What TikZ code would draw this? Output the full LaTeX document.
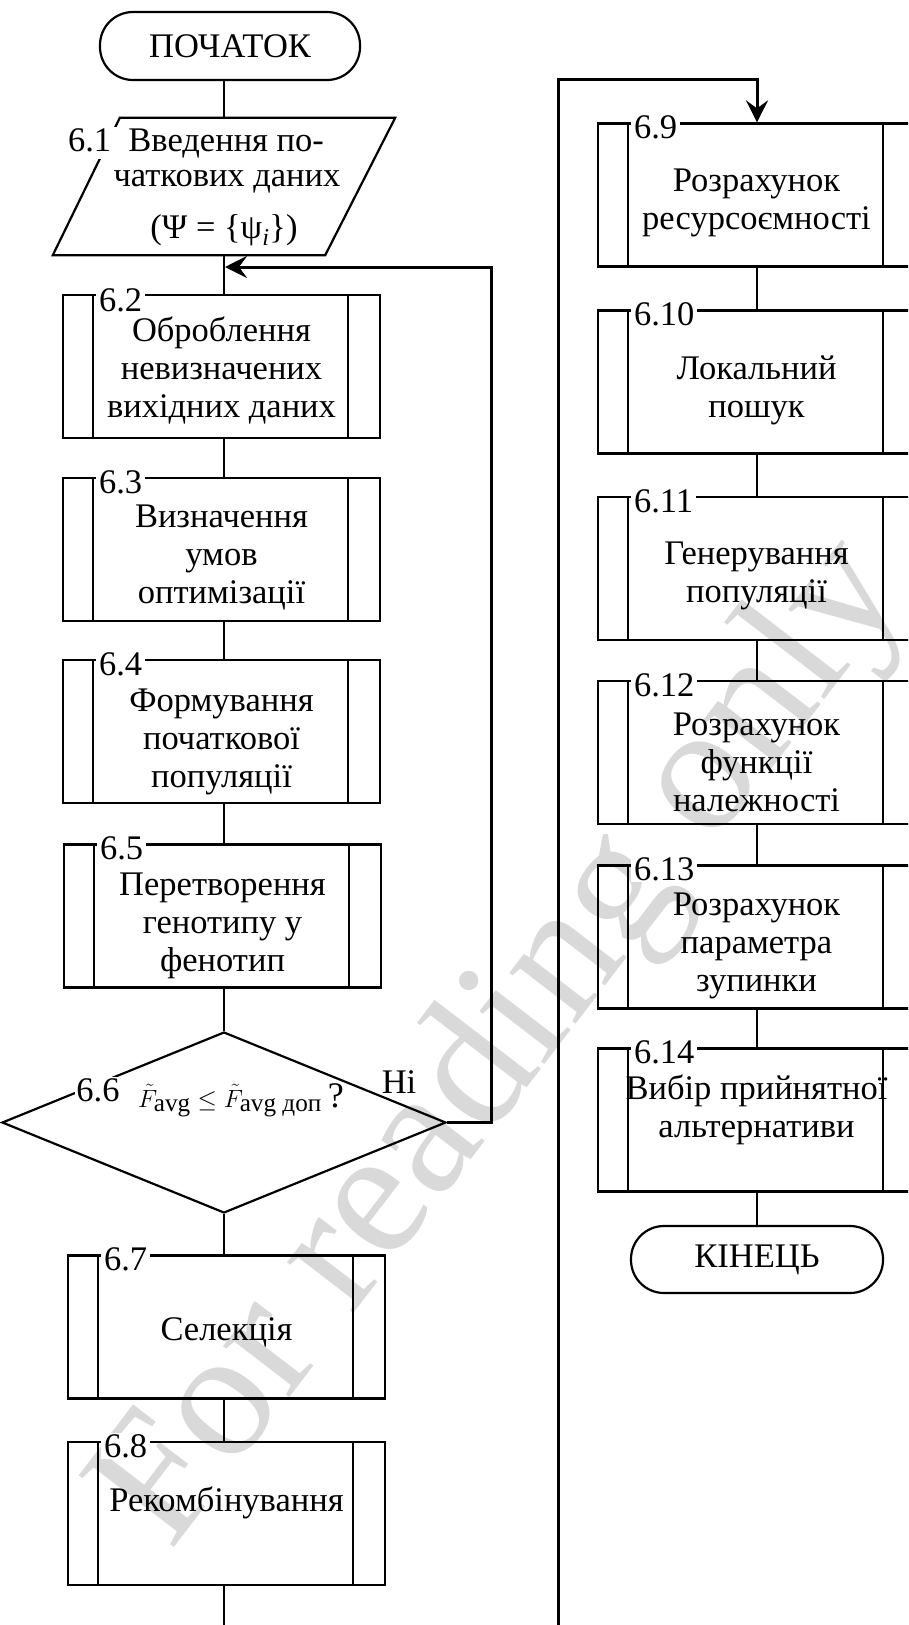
\documentclass[tikz,border=0pt]{standalone}
\usepackage{fontspec}
\usepackage{amsmath}
\setmainfont{Liberation Serif}
\usetikzlibrary{shapes.geometric,arrows.meta}
\begin{document}
\begin{tikzpicture}[x=1pt,y=-1pt,
  every node/.style={font=\fontsize{34.5}{38}\selectfont},
  proc/.style={draw, line width=2.2pt, minimum width=317pt, minimum height=143pt, inner sep=0pt,
    path picture={
      \draw[line width=2.2pt] ([xshift=30pt]path picture bounding box.north west) -- ([xshift=30pt]path picture bounding box.south west);
      \draw[line width=2.2pt] ([xshift=-32pt]path picture bounding box.north east) -- ([xshift=-32pt]path picture bounding box.south east);}},
  ptext/.style={align=center, inner sep=0pt},
  lbl/.style={fill=white, inner xsep=3pt, inner ysep=1pt, anchor=west},
  term/.style={draw, line width=2.2pt, rounded corners=33pt, inner sep=0pt},
  conn/.style={line width=2.2pt},
  arr/.style={line width=3pt, -{Stealth[length=22pt,width=22pt,inset=8pt]}},
]
\useasboundingbox (0,0) rectangle (908,1625);
\clip (0,0) rectangle (908,1625);
\fill[white] (0,0) rectangle (908,1625);

% watermark
\node[rotate=52.5, text=black!15, font=\fontsize{182}{200}\selectfont] (wm) at (505,1045) {For reading only};

% ---------- left column ----------
\node[term, minimum width=260pt, minimum height=68pt] (start) at (230,46) {ПОЧАТОК};

\node[minimum width=342pt, minimum height=137pt, inner sep=0pt] (in) at (224,186.5) {};
\draw[line width=2.2pt] ([xshift=67pt]in.north west) -- (in.north east) -- ([xshift=-70pt]in.south east) -- (in.south west) -- cycle;
\node[fill=white, inner sep=1pt] (inA) at (196,143) {6.1~~Введення по-};
\node[inner sep=0pt] (inB) at (227,182) {чаткових даних};
\node[inner sep=0pt] (inC) at (224,230) {(Ψ = \{ψ\textsubscript{\textit{i}}\})};

\node[proc] (s2) at (221.5,366.5) {};
\node[ptext] at ([yshift=-4pt]s2.center) {Оброблення\\невизначених\\вихідних даних};
\node[lbl] at ([xshift=34pt,yshift=-6pt]s2.north west) {6.2};

\node[proc] (s3) at (221.5,549.5) {};
\node[ptext] at ([yshift=-8pt]s3.center) {Визначення\\умов\\оптимізації};
\node[lbl] at ([xshift=34pt,yshift=-5pt]s3.north west) {6.3};

\node[proc] (s4) at (221.5,731.5) {};
\node[ptext] at ([yshift=-10pt]s4.center) {Формування\\початкової\\популяції};
\node[lbl] at ([xshift=34pt,yshift=-5pt]s4.north west) {6.4};

\node[proc] (s5) at (222.5,916) {};
\node[ptext] at ([yshift=-10pt]s5.center) {Перетворення\\генотипу у\\фенотип};
\node[lbl] at ([xshift=34pt,yshift=-5pt]s5.north west) {6.5};

\node[draw, diamond, line width=2.2pt, minimum width=444pt, minimum height=181pt, inner sep=0pt] (dec) at (224,1122.5) {};
\node[fill=white, inner sep=1pt] (decl) at (98,1090) {6.6};
\node[inner sep=0pt, font=\fontsize{36}{40}\selectfont] (decf) at (241,1100)
  {$\tilde{F}_{\text{avg}} \le \tilde{F}_{\text{avg доп}}$\,?};
\node[inner sep=0pt] (no) at (399,1082) {Ні};

\node[proc] (s7) at (226.5,1327) {};
\node[ptext] at ([yshift=-5pt]s7.center) {Селекція};
\node[lbl] at ([xshift=34pt,yshift=-5pt]s7.north west) {6.7};

\node[proc] (s8) at (226.5,1513.5) {};
\node[ptext] at ([yshift=11pt]s8.center) {Рекомбінування};
\node[lbl] at ([xshift=34pt,yshift=-5pt]s8.north west) {6.8};

\coordinate (lb) at (224,1625);
\coordinate (loopc) at (491,267);

% left connectors
\draw[conn] (in.north |- start.south) -- (in.north);
\draw[conn] (in.south) -- (s2.north -| in.south);
\draw[conn] (s2.south -| in.south) -- (s3.north -| in.south);
\draw[conn] (s3.south -| in.south) -- (s4.north -| in.south);
\draw[conn] (s4.south -| in.south) -- (s5.north -| in.south);
\draw[conn] (s5.south -| dec.north) -- (dec.north);
\draw[conn] (dec.south) -- (s7.north -| dec.south);
\draw[conn] (s7.south -| dec.south) -- (s8.north -| dec.south);
\draw[conn] (s8.south -| lb) -- (lb);
\draw[arr] (dec.east) -| (loopc) -- ([xshift=1pt]loopc -| in.south);

% ---------- right column ----------
\node[proc] (s9) at (756.5,195) {};
\node[ptext] at ([yshift=-8pt]s9.center) {Розрахунок\\ресурсоємності};
\node[lbl] at ([xshift=34pt,yshift=-5pt]s9.north west) {6.9};

\node[proc] (s10) at (756.5,382) {};
\node[ptext] at ([yshift=-8pt]s10.center) {Локальний\\пошук};
\node[lbl] at ([xshift=34pt,yshift=-5pt]s10.north west) {6.10};

\node[proc] (s11) at (756.5,568.5) {};
\node[ptext] at ([yshift=-7.5pt]s11.center) {Генерування\\популяції};
\node[lbl] at ([xshift=34pt,yshift=-5pt]s11.north west) {6.11};

\node[proc] (s12) at (756.5,752.5) {};
\node[ptext] at ([yshift=-10pt]s12.center) {Розрахунок\\функції\\належності};
\node[lbl] at ([xshift=34pt,yshift=-5pt]s12.north west) {6.12};

\node[proc] (s13) at (756.5,937) {};
\node[ptext] at ([yshift=-9pt]s13.center) {Розрахунок\\параметра\\зупинки};
\node[lbl] at ([xshift=34pt,yshift=-5pt]s13.north west) {6.13};

\node[proc] (s14) at (756.5,1120) {};
\node[ptext] at ([yshift=10pt]s14.center) {Вибір прийнятної\\альтернативи};
\node[lbl] at ([xshift=34pt,yshift=-5pt]s14.north west) {6.14};

\node[term, minimum width=252pt, minimum height=67pt] (end) at (757,1259.5) {КІНЕЦЬ};

\coordinate (rb) at (558,1625);
\coordinate (rtop) at (558,79);

\draw[conn] (s9.south -| end.north) -- (s10.north -| end.north);
\draw[conn] (s10.south -| end.north) -- (s11.north -| end.north);
\draw[conn] (s11.south -| end.north) -- (s12.north -| end.north);
\draw[conn] (s12.south -| end.north) -- (s13.north -| end.north);
\draw[conn] (s13.south -| end.north) -- (s14.north -| end.north);
\draw[conn] (s14.south -| end.north) -- (end.north);
\draw[arr] (rb) -- (rtop) -| (s9.north -| end.north);
\end{tikzpicture}
\end{document}
